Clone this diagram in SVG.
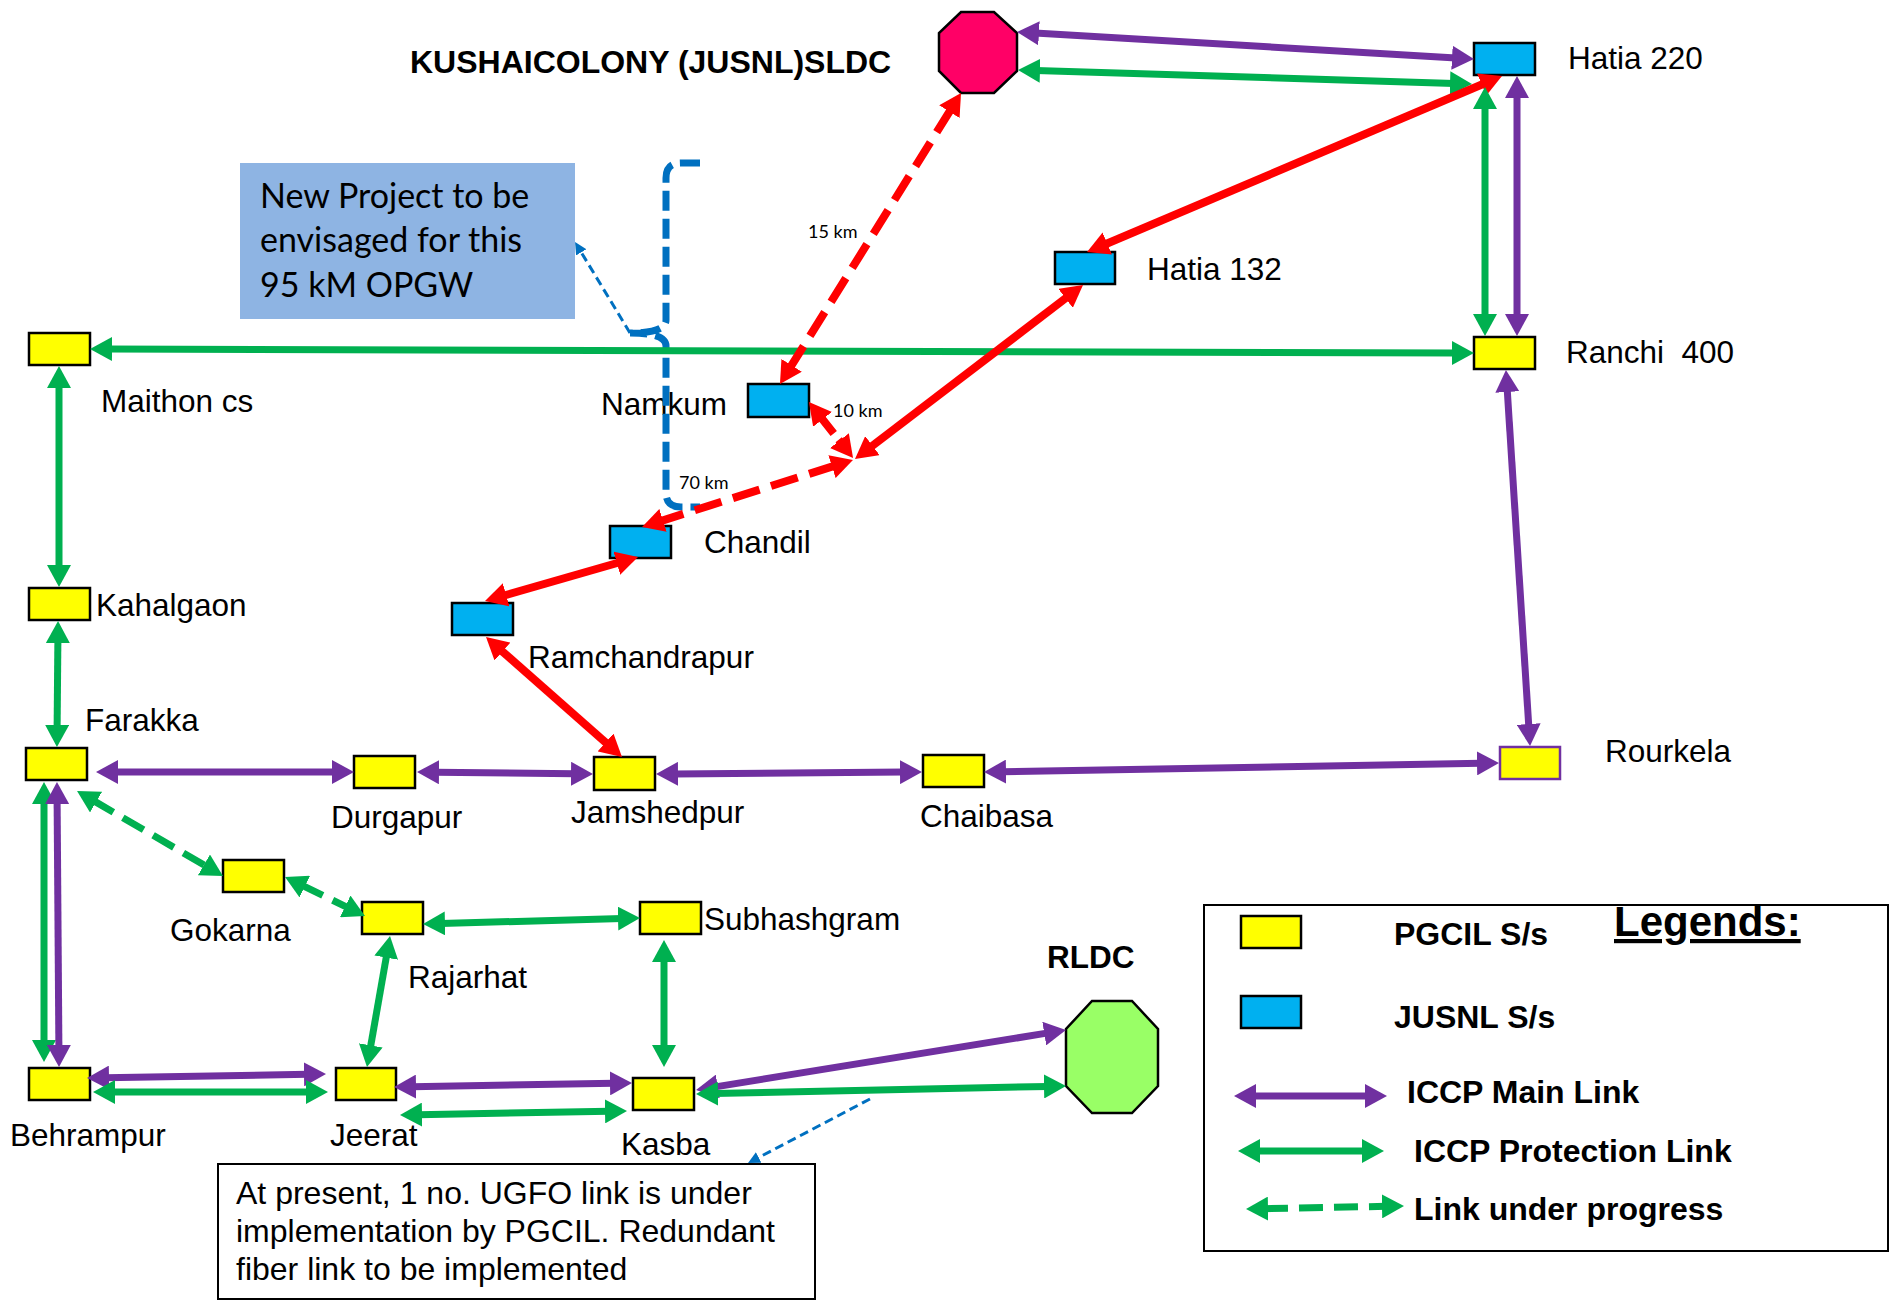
<svg xmlns="http://www.w3.org/2000/svg" width="1892" height="1306" viewBox="0 0 1892 1306">
<defs>
<style>
.lbl{font-family:"Liberation Sans",Arial,sans-serif;font-size:31.5px;fill:#000}
.b{font-weight:bold}
.lg{font-size:32px}
.nt{font-size:32px}
.cal{font-family:Lato,"Liberation Sans",sans-serif;fill:#000}
.pg{fill:#FFFF00;stroke:#000;stroke-width:2.5}
.js{fill:#00B0F0;stroke:#000;stroke-width:2.5}
.pu{stroke:#7030A0;stroke-width:7;fill:none;marker-start:url(#mpu);marker-end:url(#mpu)}
.gr{stroke:#00B050;stroke-width:7;fill:none;marker-start:url(#mgr);marker-end:url(#mgr)}
.grd{stroke:#00B050;stroke-width:7;fill:none;stroke-dasharray:24 11;marker-start:url(#mgr);marker-end:url(#mgr)}
.rd{stroke:#FF0000;stroke-width:8;fill:none;marker-start:url(#mrd);marker-end:url(#mrd)}
.rdd{stroke:#FF0000;stroke-width:8;fill:none;stroke-dasharray:28 12;marker-start:url(#mrd);marker-end:url(#mrd)}
.bl{stroke:#0070C0;stroke-width:3;fill:none;stroke-dasharray:9 5;marker-end:url(#mbl)}
</style>
<marker id="mpu" viewBox="0 0 22 24" markerWidth="22" markerHeight="24" refX="4" refY="12" orient="auto-start-reverse" markerUnits="userSpaceOnUse"><path d="M0,0 L22,12 L0,24 z" fill="#7030A0"/></marker>
<marker id="mgr" viewBox="0 0 22 24" markerWidth="22" markerHeight="24" refX="4" refY="12" orient="auto-start-reverse" markerUnits="userSpaceOnUse"><path d="M0,0 L22,12 L0,24 z" fill="#00B050"/></marker>
<marker id="mrd" viewBox="0 0 22 24" markerWidth="22" markerHeight="24" refX="4" refY="12" orient="auto-start-reverse" markerUnits="userSpaceOnUse"><path d="M0,0 L22,12 L0,24 z" fill="#FF0000"/></marker>
<marker id="mbl" viewBox="0 0 12 12" markerWidth="12" markerHeight="12" refX="2" refY="6" orient="auto" markerUnits="userSpaceOnUse"><path d="M0,0 L12,6 L0,12 z" fill="#0070C0"/></marker>
</defs>
<rect width="1892" height="1306" fill="#fff"/>

<text class="lbl b" x="410" y="73" style="font-size:32px">KUSHAICOLONY (JUSNL)SLDC</text>

<g id="nodes">
<g id="sldc"><polygon points="961,12 994,12 1017,33 1017,71 994,93 961,93 939,71 939,33" fill="#FF0066" stroke="#000" stroke-width="2.5"/></g>
<g id="hatia220"><rect class="js" x="1474" y="43" width="61" height="32"/><text class="lbl" x="1568" y="69">Hatia 220</text></g>
<g id="ranchi400"><rect class="pg" x="1474" y="337" width="61" height="32"/><text class="lbl" x="1566" y="363" xml:space="preserve">Ranchi  400</text></g>
<g id="hatia132"><rect class="js" x="1055" y="252" width="60" height="32"/><text class="lbl" x="1147" y="280">Hatia 132</text></g>
<g id="maithon"><rect class="pg" x="29" y="333" width="61" height="32"/><text class="lbl" x="101" y="412">Maithon cs</text></g>
<g id="kahalgaon"><rect class="pg" x="29" y="588" width="61" height="32"/><text class="lbl" x="96" y="616">Kahalgaon</text></g>
<g id="farakka"><rect class="pg" x="26" y="748" width="61" height="32"/><text class="lbl" x="85" y="731">Farakka</text></g>
<g id="durgapur"><rect class="pg" x="354" y="756" width="61" height="32"/><text class="lbl" x="331" y="828">Durgapur</text></g>
<g id="namkum"><rect class="js" x="748" y="384" width="61" height="33"/><text class="lbl" x="601" y="415">Namkum</text></g>
<g id="chandil"><rect class="js" x="610" y="526" width="61" height="32"/><text class="lbl" x="704" y="553">Chandil</text></g>
<g id="ramchandrapur"><rect class="js" x="452" y="603" width="61" height="32"/><text class="lbl" x="528" y="668">Ramchandrapur</text></g>
<g id="jamshedpur"><rect class="pg" x="594" y="757" width="61" height="33"/><text class="lbl" x="571" y="823">Jamshedpur</text></g>
<g id="chaibasa"><rect class="pg" x="923" y="755" width="61" height="32"/><text class="lbl" x="920" y="827">Chaibasa</text></g>
<g id="rourkela"><rect x="1500" y="747" width="60" height="32" fill="#FFFF00" stroke="#7030A0" stroke-width="2.5"/><text class="lbl" x="1605" y="762">Rourkela</text></g>
<g id="gokarna"><rect class="pg" x="223" y="860" width="61" height="32"/><text class="lbl" x="170" y="941">Gokarna</text></g>
<g id="rajarhat"><rect class="pg" x="362" y="902" width="61" height="32"/><text class="lbl" x="408" y="988">Rajarhat</text></g>
<g id="subhashgram"><rect class="pg" x="640" y="902" width="61" height="32"/><text class="lbl" x="704" y="930">Subhashgram</text></g>
<g id="behrampur"><rect class="pg" x="29" y="1068" width="61" height="32"/><text class="lbl" x="10" y="1146">Behrampur</text></g>
<g id="jeerat"><rect class="pg" x="336" y="1068" width="60" height="32"/><text class="lbl" x="330" y="1146">Jeerat</text></g>
<g id="kasba"><rect class="pg" x="633" y="1078" width="61" height="32"/><text class="lbl" x="621" y="1155">Kasba</text></g>
<g id="rldc"><polygon points="1092,1001 1132,1001 1158,1029 1158,1086 1132,1113 1092,1113 1066,1086 1066,1029" fill="#99FF66" stroke="#000" stroke-width="2.5"/><text class="lbl b" x="1047" y="968">RLDC</text></g>
</g>

<g id="annotations">
<rect x="240" y="163" width="335" height="156" fill="#8EB4E3"/>
<text class="cal" font-size="34" x="260" y="208">New Project to be</text>
<text class="cal" font-size="34" x="260" y="252">envisaged for this</text>
<text class="cal" font-size="34" x="260" y="297">95 kM OPGW</text>
<path d="M700,163 L681,163 Q666,163 666,178 L666,320 Q666,333 630,333 Q666,333 666,346 L666,493 Q666,507 681,507 L700,507" fill="none" stroke="#0070C0" stroke-width="7" stroke-dasharray="20 8"/>
<path class="bl" d="M630,333 L580.2,250.6"/>
<text class="cal" font-size="18" x="808" y="238">15 km</text>
<text class="cal" font-size="18" x="833" y="417">10 km</text>
<text class="cal" font-size="18" x="679" y="489">70 km</text>
</g>

<g id="connectors">
<path class="pu" d="M1035,33.1 L1456,57.9"/>
<path class="gr" d="M1036,70.6 L1454,83.4"/>
<path class="rd" d="M1485.4,83 L1103.6,245"/>
<path class="gr" d="M1485,105 L1485,318"/>
<path class="pu" d="M1517,94 L1517,318"/>
<path class="gr" d="M108,349 L1456,353"/>
<path class="pu" d="M1507.1,388 L1528.9,728"/>
<path class="rdd" d="M951.5,108.3 L789.5,368.7"/>
<path class="rd" d="M1068.7,295.9 L869.3,448.1"/>
<path class="rdd" style="stroke-dasharray:22 8" d="M820.1,416.2 L841.9,443.8"/>
<path class="rdd" d="M835.8,465.4 L659.2,521.6"/>
<path class="rd" d="M620.7,562 L502.3,596"/>
<path class="rd" d="M499.5,648.9 L608.5,745.1"/>
<path class="pu" d="M114,772 L336,772"/>
<path class="pu" d="M435,772.2 L575,773.8"/>
<path class="pu" d="M674,773.9 L904,772.1"/>
<path class="pu" d="M1002,771.7 L1481,763.3"/>
<path class="gr" d="M59,384 L59,569"/>
<path class="gr" d="M57.9,639 L57.1,729"/>
<path class="gr" d="M44,800 L44,1044"/>
<path class="pu" d="M57.1,800 L58.9,1049"/>
<path class="grd" d="M92.6,800.1 L207.4,866.9"/>
<path class="grd" d="M301.2,884.9 L348.8,908.1"/>
<path class="gr" d="M441,923.5 L622,918.5"/>
<path class="gr" d="M386.9,953.7 L370.1,1049.3"/>
<path class="gr" d="M664,958 L664,1049"/>
<path class="pu" d="M105,1077.7 L308,1074.3"/>
<path class="gr" d="M111,1092 L310,1092"/>
<path class="pu" d="M412,1086.7 L614,1083.3"/>
<path class="gr" d="M418,1114.7 L609,1111.3"/>
<path class="pu" d="M713.8,1087.1 L1048.2,1032.9"/>
<path class="gr" d="M714,1093.6 L1048,1086.4"/>
</g>

<g id="note">
<rect x="218" y="1164" width="597" height="135" fill="#fff" stroke="#000" stroke-width="2"/>
<text class="lbl nt" x="236" y="1204">At present, 1 no. UGFO link is under</text>
<text class="lbl nt" x="236" y="1242">implementation by PGCIL. Redundant</text>
<text class="lbl nt" x="236" y="1280">fiber link to be implemented</text>
<path class="bl" d="M870,1099 L756.9,1158.4"/>
</g>

<g id="legend">
<rect x="1204" y="905" width="684" height="346" fill="#fff" stroke="#000" stroke-width="2"/>
<text class="lbl b" x="1614" y="936" style="font-size:42px" text-decoration="underline">Legends:</text>
<rect class="pg" x="1241" y="916" width="60" height="32"/>
<text class="lbl b lg" x="1394" y="945">PGCIL S/s</text>
<rect class="js" x="1241" y="996" width="60" height="32"/>
<text class="lbl b lg" x="1394" y="1028">JUSNL S/s</text>
<path class="pu" d="M1252,1096 L1369,1096"/>
<text class="lbl b lg" x="1407" y="1103">ICCP Main Link</text>
<path class="gr" d="M1256,1151 L1366,1151"/>
<text class="lbl b lg" x="1414" y="1162">ICCP Protection Link</text>
<path class="grd" d="M1264,1208.7 L1386,1206.3"/>
<text class="lbl b lg" x="1414" y="1220">Link under progress</text>
</g>
</svg>
